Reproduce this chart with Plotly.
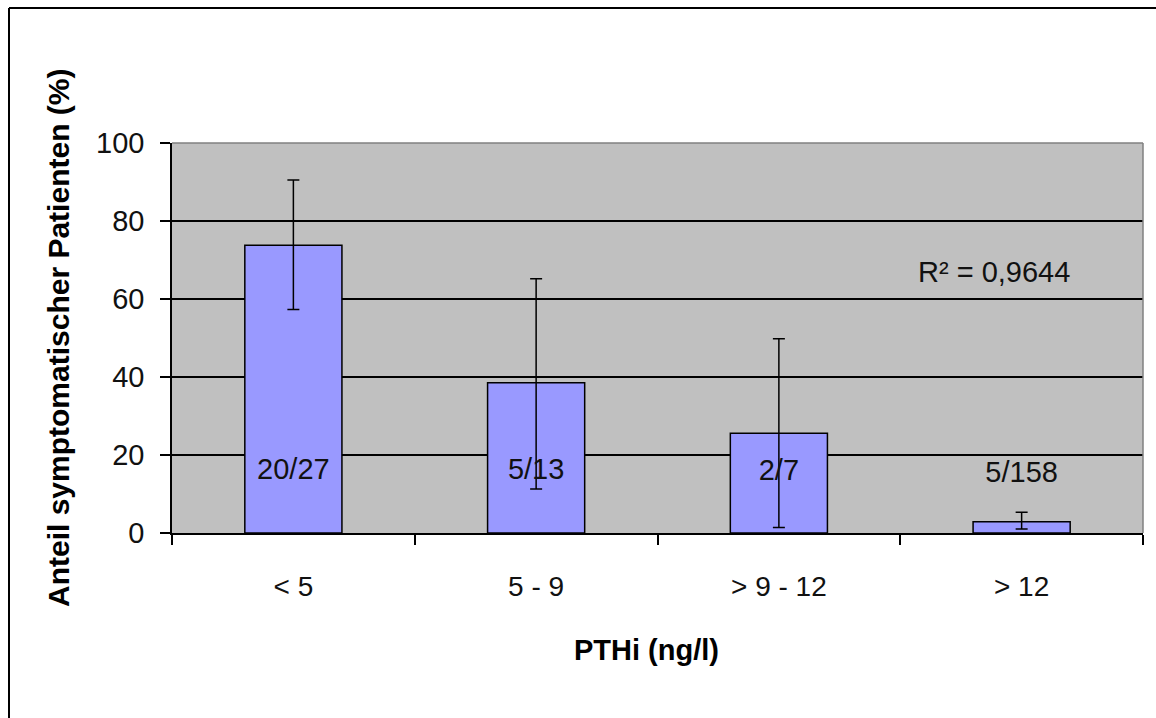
import plotly.graph_objects as go

categories = ["< 5", "5 - 9", "> 9 - 12", "> 12"]
values = [73.8, 38.5, 25.6, 2.9]
err_upper = [90.5, 65.2, 49.8, 5.3]
err_lower = [57.3, 11.3, 1.4, 1.0]
bar_labels = ["20/27", "5/13", "2/7", "5/158"]
label_y = [15.6, 15.6, 15.4, 14.9]
y_ticks = [0, 20, 40, 60, 80, 100]
r2_text = "R² = 0,9644"
x_title = "PTHi (ng/l)"
y_title = "Anteil symptomatischer Patienten (%)"

FONT = "Arial, Liberation Sans, sans-serif"

plus = [u - v for u, v in zip(err_upper, values)]
minus = [v - l for v, l in zip(values, err_lower)]

fig = go.Figure()
fig.add_trace(go.Bar(
    x=categories, y=values,
    marker=dict(color="#9999ff", line=dict(color="#000000", width=1.5)),
    error_y=dict(type="data", symmetric=False, array=plus, arrayminus=minus,
                 color="#000000", thickness=1.5, width=6),
    width=0.4,
    hoverinfo="skip",
))
fig.add_trace(go.Scatter(
    x=categories, y=label_y, mode="text", text=bar_labels,
    textfont=dict(family=FONT, size=29, color="#111111"),
    hoverinfo="skip",
))

L, R, T, B = 172, 13, 143, 185
W, H = 1156, 718
pw, ph = W - L - R, H - T - B

def px_x(p):
    return (p - L) / pw

def px_y(p):
    return (H - B - p) / ph

fig.update_layout(
    width=W, height=H,
    margin=dict(l=L, r=R, t=T, b=B, pad=0),
    paper_bgcolor="#ffffff",
    plot_bgcolor="#c0c0c0",
    showlegend=False,
    font=dict(family=FONT, color="#111111"),
    xaxis=dict(
        type="category",
        showgrid=False,
        showline=True, linecolor="#000000", linewidth=1.5,
        ticks="outside", tickson="boundaries", ticklen=10, tickcolor="#000000", tickwidth=1.5,
        tickfont=dict(family=FONT, size=28, color="#111111"),
        ticklabelstandoff=28,
        range=[-0.5, 3.5],
        fixedrange=True,
    ),
    yaxis=dict(
        range=[0, 100],
        tickvals=y_ticks,
        showgrid=True, gridcolor="#000000", gridwidth=1.5,
        showline=True, linecolor="#000000", linewidth=1.5,
        ticks="outside", ticklen=10, tickcolor="#000000", tickwidth=1.5,
        tickfont=dict(family=FONT, size=29, color="#111111"),
        ticklabelstandoff=10,
        zeroline=False,
        fixedrange=True,
    ),
    annotations=[
        dict(text=r2_text, x=px_x(994), y=px_y(272), xref="paper", yref="paper",
             showarrow=False, font=dict(family=FONT, size=29, color="#111111"),
             xanchor="center", yanchor="middle"),
        dict(text="<b>" + x_title + "</b>", x=px_x(646), y=px_y(650), xref="paper", yref="paper",
             showarrow=False, font=dict(family=FONT, size=29, color="#000000"),
             xanchor="center", yanchor="middle"),
        dict(text="<b>" + y_title + "</b>", x=px_x(58), y=px_y(338), xref="paper", yref="paper",
             showarrow=False, textangle=-90, font=dict(family=FONT, size=30, color="#000000"),
             xanchor="center", yanchor="middle"),
    ],
    shapes=[
        dict(type="line", xref="paper", yref="paper", x0=0, x1=1, y0=1, y1=1,
             line=dict(color="#808080", width=1.5)),
        dict(type="line", xref="paper", yref="paper", x0=1, x1=1, y0=0, y1=1,
             line=dict(color="#808080", width=1.5)),
        dict(type="line", xref="paper", yref="paper", x0=px_x(9), x1=px_x(9), y0=px_y(8), y1=px_y(H + 5),
             line=dict(color="#000000", width=2)),
        dict(type="line", xref="paper", yref="paper", x0=px_x(9), x1=px_x(W + 5), y0=px_y(8), y1=px_y(8),
             line=dict(color="#000000", width=2)),
    ],
)

fig.write_html("out.html")
